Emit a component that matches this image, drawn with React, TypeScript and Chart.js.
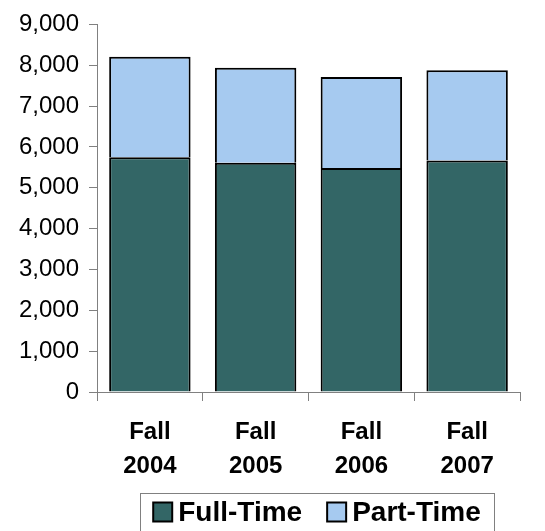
import React, { useEffect, useRef } from "react";
import { Chart, registerables } from "chart.js";

Chart.register(...registerables);

const categories: string[][] = [
  ["Fall", "2004"],
  ["Fall", "2005"],
  ["Fall", "2006"],
  ["Fall", "2007"],
];
const fullTime: number[] = [5750, 5615, 5485, 5670];
const partTime: number[] = [2460, 2325, 2230, 2210];
const seriesNames: string[] = ["Full-Time", "Part-Time"];
const seriesColors: string[] = ["#336666", "#A6CAF0"];

const FONT = "'Liberation Sans', Arial, Helvetica, sans-serif";

const legendPlugin = {
  id: "boxLegend",
  afterDraw(chart: any) {
    const ctx = chart.ctx as CanvasRenderingContext2D;
    const ds = chart.data.datasets;
    ctx.save();
    ctx.font = `bold 28px ${FONT}`;
    const sq = 19;
    const gapText = 6;
    const gapItem = 25;
    const widths = ds.map((d: any) => ctx.measureText(d.label).width);
    let total = 0;
    ds.forEach((_: any, i: number) => {
      total += sq + gapText + widths[i];
      if (i < ds.length - 1) total += gapItem;
    });
    const boxLeft = 140;
    const boxRight = 494;
    const boxTop = 493;
    const cy = 512;
    ctx.strokeStyle = "#808080";
    ctx.lineWidth = 1;
    ctx.strokeRect(boxLeft + 0.5, boxTop + 0.5, boxRight - boxLeft, 60);
    let x = (boxLeft + boxRight) / 2 - total / 2;
    ds.forEach((d: any, i: number) => {
      ctx.fillStyle = d.backgroundColor;
      ctx.fillRect(x, cy - sq / 2, sq, sq);
      ctx.strokeStyle = "#000";
      ctx.lineWidth = 2;
      ctx.strokeRect(x, cy - sq / 2, sq, sq);
      ctx.fillStyle = "#000";
      ctx.textBaseline = "middle";
      ctx.textAlign = "left";
      ctx.fillText(d.label, x + sq + gapText, cy + 1);
      x += sq + gapText + widths[i] + gapItem;
    });
    ctx.restore();
  },
};

export default function App() {
  const ref = useRef<HTMLCanvasElement | null>(null);
  useEffect(() => {
    if (!ref.current) return;
    const chart = new Chart(ref.current, {
      type: "bar",
      data: {
        labels: categories,
        datasets: [
          {
            label: seriesNames[0],
            data: fullTime,
            backgroundColor: seriesColors[0],
            borderColor: "#000",
            borderWidth: 2,
            barPercentage: 0.77,
            categoryPercentage: 1,
          },
          {
            label: seriesNames[1],
            data: partTime,
            backgroundColor: seriesColors[1],
            borderColor: "#000",
            borderWidth: 2,
            barPercentage: 0.77,
            categoryPercentage: 1,
          },
        ],
      },
      options: {
        animation: false,
        responsive: false,
        layout: { padding: { top: 19, right: 25, left: 0, bottom: 0 } },
        plugins: {
          legend: { display: false },
          tooltip: { enabled: false },
        },
        scales: {
          x: {
            stacked: true,
            grid: {
              display: true,
              drawOnChartArea: false,
              drawTicks: true,
              tickLength: 9,
              color: "#808080",
              offset: true,
            },
            border: { display: true, color: "#808080" },
            ticks: {
              color: "#000",
              font: { family: FONT, size: 24, weight: "bold", lineHeight: 1.42 },
              padding: 14,
              maxRotation: 0,
              autoSkip: false,
            },
            afterFit: (s: any) => {
              s.height = 139;
            },
          },
          y: {
            stacked: true,
            min: 0,
            max: 9000,
            grid: {
              display: true,
              drawOnChartArea: false,
              drawTicks: true,
              tickLength: 8,
              color: "#808080",
            },
            border: { display: true, color: "#808080" },
            ticks: {
              stepSize: 1000,
              color: "#000",
              font: { family: FONT, size: 24 },
              padding: 10,
              callback: (v: any) => Number(v).toLocaleString("en-US"),
            },
            afterFit: (s: any) => {
              s.width = 97;
            },
          },
        },
      },
      plugins: [legendPlugin],
    });
    return () => chart.destroy();
  }, []);
  return (
    <div style={{ position: "absolute", left: 0, top: 0, width: 545, height: 531 }}>
      <canvas ref={ref} width={545} height={531} style={{ width: 545, height: 531 }} />
    </div>
  );
}
